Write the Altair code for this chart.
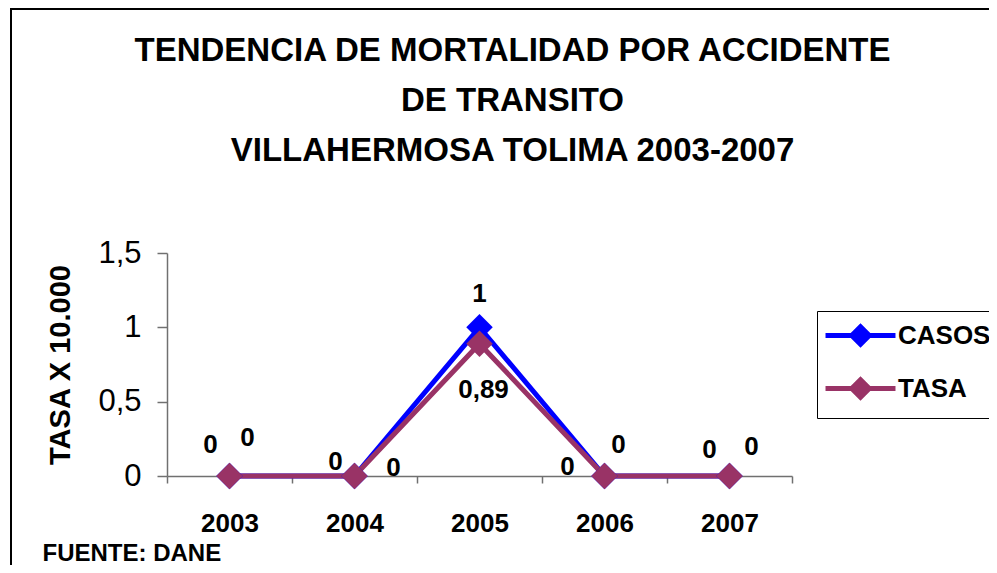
import altair as alt
import pandas as pd

# ---- data ----
years = ["2003", "2004", "2005", "2006", "2007"]
casos = [0, 0, 1, 0, 0]
tasa = [0, 0, 0.89, 0, 0]
casos_text = ["0", "0", "1", "0", "0"]
tasa_text = ["0", "0", "0,89", "0", "0"]
series_names = ["CASOS", "TASA"]
series_colors = ["#0000FF", "#993366"]

title_lines = ["TENDENCIA DE MORTALIDAD POR ACCIDENTE", "DE TRANSITO", "VILLAHERMOSA TOLIMA 2003-2007"]
y_title = "TASA X 10.000"
source_note = "FUENTE: DANE"

# ---- label placement (styling only: pixel nudges of each data label) ----
casos_nudge = [(-19, -31), (-19, -14), (0, -33), (-37, -9), (-20, -26)]
tasa_nudge = [(18, -38), (39, -8), (4, 46), (14, -31), (22, -29)]

rows = []
for name, vals, txts in [("CASOS", casos, casos_text), ("TASA", tasa, tasa_text)]:
    for i, (yr, v, t) in enumerate(zip(years, vals, txts)):
        rows.append({"year": yr, "value": v, "series": name, "label": t, "idx": i})
df = pd.DataFrame(rows)

SANS = "Liberation Sans, Arial"

x_enc = alt.X(
    "year:N",
    sort=years,
    scale=alt.Scale(type="band", paddingInner=0, paddingOuter=0),
    axis=alt.Axis(
        title=source_note,
        titleFont=SANS, titleFontSize=24, titleFontWeight="bold", titleColor="black",
        titleAnchor="start", titleAlign="left", titleBaseline="top",
        titleX=-125, titleY=65,
        labelAngle=0, labelFont=SANS, labelFontSize=26, labelFontWeight="bold",
        labelColor="black", labelPadding=27,
        tickSize=7, tickBand="extent", tickColor="#707070", domainColor="#707070",
        domainWidth=1.5, tickWidth=1.5, grid=False,
    ),
)
y_enc = alt.Y(
    "value:Q",
    scale=alt.Scale(domain=[0, 1.5], nice=False),
    axis=alt.Axis(
        title=y_title, titleFont=SANS, titleFontSize=29, titleFontWeight="bold",
        titleColor="black", titlePadding=22,
        values=[0, 0.5, 1, 1.5], format="~g",
        labelExpr="replace(datum.label, '.', ',')",
        labelFont=SANS, labelFontSize=31, labelColor="black", labelPadding=16,
        tickSize=10, tickColor="#707070", domainColor="#707070",
        domainWidth=1.5, tickWidth=1.5, grid=False,
    ),
)

legend_symbol = "M-3,0L3,0M0,-0.75L0.75,0L0,0.75L-0.75,0Z"
color_enc = alt.Color(
    "series:N",
    scale=alt.Scale(domain=series_names, range=series_colors),
    legend=alt.Legend(
        title=None, orient="none", legendX=650, legendY=58,
        strokeColor="black", padding=10, symbolType=legend_symbol,
        symbolSize=544, symbolStrokeWidth=5, symbolOffset=19,
        labelFont=SANS, labelFontSize=26, labelFontWeight="bold",
        labelColor="black", labelOffset=23, rowPadding=14, fillColor="white",
    ),
)

base = alt.Chart(df)

border = alt.Chart(df).mark_rect(fill="transparent", stroke="black", strokeWidth=1.5).encode(
    x=alt.value(-156), x2=alt.value(900), y=alt.value(-244), y2=alt.value(400)
)

lines = base.mark_line(strokeWidth=5).encode(x=x_enc, y=y_enc, color=color_enc, order="idx:Q")
points = base.mark_point(filled=True, shape="diamond", size=700, opacity=1).encode(
    x=x_enc, y=y_enc, color=color_enc
)

label_layers = []
for name, nudges in [("CASOS", casos_nudge), ("TASA", tasa_nudge)]:
    for i, (dx, dy) in enumerate(nudges):
        label_layers.append(
            base.transform_filter(
                (alt.datum.series == name) & (alt.datum.idx == i)
            ).mark_text(
                dx=dx, dy=dy, font=SANS, fontSize=26, fontWeight="bold",
                color="black", baseline="middle", align="center",
            ).encode(x=alt.X("year:N", sort=years), y="value:Q", text="label:N")
        )

chart = alt.layer(border, lines, points, *label_layers).properties(
    width=625,
    height=223,
    padding={"left": 159, "top": 245, "right": 197, "bottom": 89},
    autosize=alt.AutoSizeParams(type="none"),
    title=alt.TitleParams(
        text=title_lines, font=SANS, fontSize=33, fontWeight="bold", color="black",
        lineHeight=50, anchor="middle", dx=33, offset=-160,
    ),
).configure_view(stroke=None)

chart.save("out.html", embed_options={"renderer": "svg", "actions": False})
